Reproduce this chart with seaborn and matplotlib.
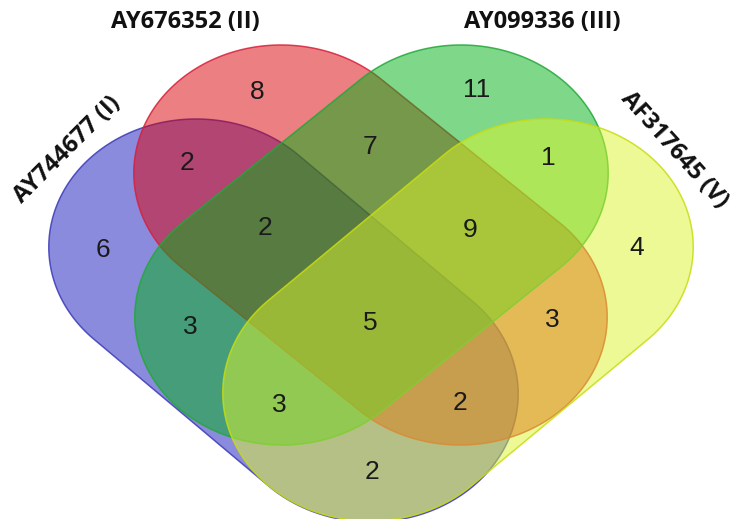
import numpy as np
import seaborn as sns
import matplotlib.pyplot as plt

# set names and region counts
set_names = ["AY744677 (I)", "AY676352 (II)", "AY099336 (III)", "AF317645 (V)"]
region_keys = ["II", "III", "I&II", "II&III", "III&V", "I", "I&II&III", "II&III&V",
               "V", "I&III", "I&II&III&V", "II&V", "I&III&V", "I&II&V", "I&V"]
region_counts = [8, 11, 2, 7, 1, 6, 2, 9, 4, 3, 5, 3, 3, 2, 2]

# layout (pixel-like coordinates, y down)
label_pos = {
    "II": (257, 92), "III": (477, 90), "I&II": (187, 163), "II&III": (370, 147),
    "III&V": (548, 158), "I": (103, 250), "I&II&III": (265, 228), "II&III&V": (470, 230),
    "V": (637, 248), "I&III": (190, 327), "I&II&III&V": (370, 323), "II&V": (552, 320),
    "I&III&V": (279, 405), "I&II&V": (460, 403), "I&V": (372, 472),
}
SX = 1.15   # horizontal stretch of the drawing
R = 128
shapes = [
    # (upper cap centre, lower cap centre, face, edge)
    ((196, 247), (371, 394), "#1919bf", "#3a3ab8"),
    ((281, 173), (460, 317), "#d90005", "#d8203c"),
    ((461, 173), (282, 317), "#00b115", "#22a838"),
    ((546, 247), (370, 393), "#ddf52d", "#c8dc10"),
]


def stadium(c1, c2, r, n=120):
    p1 = np.array([c1[0] / SX, c1[1]])
    p2 = np.array([c2[0] / SX, c2[1]])
    th = np.arctan2(*(p2 - p1)[::-1])
    a1 = np.linspace(th + np.pi / 2, th + 3 * np.pi / 2, n)
    a2 = np.linspace(th - np.pi / 2, th + np.pi / 2, n)
    pts = np.vstack([p1 + r * np.c_[np.cos(a1), np.sin(a1)],
                     p2 + r * np.c_[np.cos(a2), np.sin(a2)]])
    pts[:, 0] *= SX
    return pts


sns.set_theme(style="white")
fig = plt.figure(figsize=(7.35, 5.19), dpi=100)
ax = fig.add_axes([0, 0, 1, 1])

for c1, c2, face, edge in shapes:
    pts = stadium(c1, c2, R)
    ax.fill(pts[:, 0], pts[:, 1], color=face, alpha=0.5, lw=0)
    ax.fill(pts[:, 0], pts[:, 1], fill=False, edgecolor=edge, lw=1.1, alpha=0.85)

for key, n in zip(region_keys, region_counts):
    x, y = label_pos[key]
    ax.text(x, y, str(n), ha="center", va="center", fontsize=19,
            family="Liberation Sans", color="#1a1a1a")

title_style = dict(fontsize=17, fontweight="bold", family="Open Sans", color="#111111",
                   ha="center", va="center")
ax.text(67, 150, set_names[0], rotation=45, **title_style)
ax.text(185, 22, set_names[1], **title_style)
ax.text(542, 22, set_names[2], **title_style)
ax.text(674, 150, set_names[3], rotation=-48, **title_style)

ax.set_xlim(0, 735)
ax.set_ylim(519, 0)
ax.axis("off")
fig.savefig("out.png", dpi=100)
